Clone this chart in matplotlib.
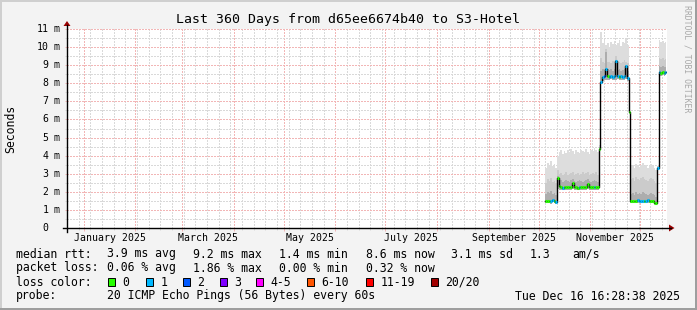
import numpy as np
import pandas as pd
import matplotlib
matplotlib.use("Agg")
import matplotlib.pyplot as plt
import matplotlib.dates as mdates
from matplotlib.patches import Rectangle, Polygon

# ---------------------------------------------------------------------------
# data (one value per day, in ms)
# ---------------------------------------------------------------------------
END = pd.Timestamp("2025-12-16 16:28:38")
START = END - pd.Timedelta(days=360)
days = pd.date_range("2025-10-05", periods=73, freq="D")

median_ms = [
    1.50, 1.48, 1.52, 1.47, 1.55, 1.50, 1.46,
    2.75,
    2.30, 2.26, 2.22, 2.28, 2.25, 2.24, 2.27, 2.26, 2.47, 2.28, 2.25, 2.23,
    2.27, 2.26, 2.24, 2.28, 2.25, 2.43, 2.27, 2.24, 2.26, 2.25, 2.28, 2.26,
    4.37,
    8.05, 8.35, 8.40, 8.80, 8.38, 8.36, 8.40, 8.35, 8.38, 9.22, 8.40, 8.36,
    8.38, 8.35, 8.40, 8.95, 8.30,
    6.43,
    1.52, 1.50, 1.51, 1.49, 1.53, 1.50, 1.52, 1.48, 1.51, 1.50, 1.53, 1.49,
    1.51, 1.50, 1.40, 1.38,
    3.30,
    8.62, 8.58, 8.60, 8.57, 8.60,
]
loss_class = [
    0, 0, 0, 1, 1, 0, 1,
    0,
    0, 0, 1, 0, 0, 0, 0, 0, 0, 0, 0, 0, 1, 0, 0, 0, 0, 0, 0, 0, 0, 1, 0, 0,
    0,
    1, 1, 2, 1, 0, 1, 1, 1, 1, 1, 1, 0, 1, 1, 1, 1, 1,
    0,
    0, 0, 0, 0, 1, 1, 1, 1, 0, 1, 1, 0, 0, 0, 0, 0,
    1,
    1, 0, 0, 1, 1,
]
smoke_min = [
    1.38, 1.36, 1.40, 1.35, 1.42, 1.38, 1.35,
    2.15,
    2.12, 2.10, 2.08, 2.12, 2.10, 2.09, 2.11, 2.10, 2.15, 2.12, 2.10, 2.08,
    2.11, 2.10, 2.09, 2.12, 2.10, 2.15, 2.11, 2.09, 2.10, 2.11, 2.12, 2.10,
    4.30,
    8.00, 8.15, 8.20, 8.20, 8.18, 8.20, 8.22, 8.18, 8.20, 8.20, 8.22, 8.18,
    8.20, 8.20, 8.20, 8.22, 8.10,
    6.35,
    1.38, 1.37, 1.39, 1.36, 1.40, 1.38, 1.37, 1.36, 1.39, 1.38, 1.40, 1.37,
    1.38, 1.36, 1.30, 1.28,
    3.25,
    8.45, 8.42, 8.45, 8.40, 8.44,
]
smoke_inner = [
    1.90, 2.00, 1.95, 2.05, 1.90, 1.95, 1.85,
    2.90,
    2.60, 2.65, 2.55, 2.60, 2.65, 2.60, 2.55, 2.65, 2.70, 2.60, 2.55, 2.60,
    2.65, 2.60, 2.55, 2.60, 2.65, 2.70, 2.60, 2.55, 2.60, 2.65, 2.60, 2.55,
    4.45,
    8.70, 8.80, 8.75, 9.75, 8.80, 8.75, 8.80, 8.70, 8.80, 9.30, 8.75, 8.80,
    8.70, 8.75, 8.80, 9.00, 8.70,
    6.45,
    1.90, 1.95, 1.85, 2.00, 1.90, 1.95, 1.90, 2.00, 1.95, 1.90, 1.85, 1.90,
    1.95, 1.90, 1.80, 1.70,
    3.35,
    8.95, 8.90, 8.95, 8.90, 8.90,
]
smoke_mid = [
    2.50, 2.70, 2.60, 2.75, 2.55, 2.60, 2.50,
    3.20,
    3.00, 3.05, 2.95, 3.00, 3.10, 2.95, 3.00, 3.05, 3.10, 2.95, 3.00, 3.05,
    2.95, 3.00, 3.10, 3.00, 3.05, 3.10, 2.95, 3.00, 3.05, 3.00, 3.10, 2.95,
    4.50,
    9.40, 9.20, 9.10, 9.90, 9.15, 9.20, 9.10, 9.25, 9.20, 9.50, 9.15, 9.20,
    9.10, 9.20, 9.30, 9.20, 9.10,
    6.50,
    2.70, 2.75, 2.60, 2.80, 2.70, 2.65, 2.75, 2.80, 2.70, 2.65, 2.60, 2.70,
    2.75, 2.70, 2.60, 2.50,
    3.40,
    9.40, 9.35, 9.40, 9.30, 9.35,
]
smoke_max = [
    3.30, 3.60, 3.50, 3.70, 3.40, 3.55, 3.30,
    4.00,
    4.20, 4.30, 4.10, 4.25, 4.15, 4.30, 4.20, 4.35, 4.25, 4.10, 4.30, 4.20,
    4.15, 4.30, 4.25, 4.20, 4.35, 4.20, 4.10, 4.30, 4.25, 4.40, 4.30, 4.20,
    4.60,
    10.85, 10.20, 10.40, 10.10, 10.25, 10.00, 10.30, 10.15, 10.35, 10.10,
    10.20, 10.40, 10.05, 10.30, 10.20, 10.45, 10.10,
    6.60,
    3.40, 3.50, 3.30, 3.55, 3.45, 3.35, 3.50, 3.60, 3.40, 3.50, 3.30, 3.45,
    3.55, 3.40, 3.30, 3.20,
    3.45,
    10.40, 10.30, 10.35, 10.20, 10.30,
]

loss_labels = ["0", "1", "2", "3", "4-5", "6-10", "11-19", "20/20"]
loss_colors = ["#26ff00", "#00b8ff", "#0059ff", "#7e00ff",
               "#ff00ff", "#ff5500", "#ff0000", "#a10000"]

month_labels = ["January 2025", "March 2025", "May 2025",
                "July 2025", "September 2025", "November 2025"]
label_months = ["2025-01", "2025-03", "2025-05", "2025-07", "2025-09", "2025-11"]
y_ticks = list(range(12))

title = "Last 360 Days from d65ee6674b40 to S3-Hotel"
rtt_stats = ["3.9 ms avg", "9.2 ms max", "1.4 ms min", "8.6 ms now",
             "3.1 ms sd", "1.3", "am/s"]
loss_stats = ["0.06 % avg", "1.86 % max", "0.00 % min", "0.32 % now"]
probe_text = "20 ICMP Echo Pings (56 Bytes) every 60s"
stamp_text = "Tue Dec 16 16:28:38 2025"

# ---------------------------------------------------------------------------
# layout (pixels)
# ---------------------------------------------------------------------------
W, H = 697, 310
L, R, T, B = 66.5, 666.5, 29, 228
MONO = "DejaVu Sans Mono"
BG = "#f3f3f3"
MGRID = "#f2b6b6"
GRID = "#d9d9d9"
ARROW = "#9a0000"

fig = plt.figure(figsize=(W / 100, H / 100), dpi=100, facecolor=BG)
ax = fig.add_axes([L / W, (H - B) / H, (R - L) / W, (B - T) / H])
ax.set_facecolor("white")
for s in ax.spines.values():
    s.set_visible(False)

x = mdates.date2num(days.to_pydatetime())
end_num = mdates.date2num(END.to_pydatetime())
edges = np.append(x, min(x[-1] + 1, end_num))


def ext(v):
    return np.append(v, v[-1])


# smoke
ax.fill_between(edges, ext(smoke_min), ext(smoke_max), step="post",
                color="#dddddd", lw=0, zorder=2)
ax.fill_between(edges, ext(smoke_min), ext(smoke_mid), step="post",
                color="#cbcbcb", lw=0, zorder=2)
ax.fill_between(edges, ext(smoke_min), ext(smoke_inner), step="post",
                color="#adadad", lw=0, zorder=2)

# median line + loss colour
ax.step(edges, ext(median_ms), where="post", color="black", lw=1.0, zorder=3)
ax.hlines(median_ms, x, edges[1:], colors=[loss_colors[c] for c in loss_class],
          lw=2.2, zorder=4)

ax.set_xlim(mdates.date2num(START.to_pydatetime()), end_num)
ax.set_ylim(0, 11)

ax.xaxis.set_major_locator(mdates.MonthLocator())
ax.xaxis.set_minor_locator(mdates.WeekdayLocator(byweekday=mdates.SU))
ax.set_yticks(y_ticks)
ax.set_yticks(np.arange(0.5, 11, 1.0), minor=True)
ax.grid(which="minor", color=GRID, lw=0.72, ls=(0, (1.4, 1.4)),
        antialiased=False, zorder=1)
ax.grid(which="major", color=MGRID, lw=0.72, ls=(0, (1.4, 1.4)),
        antialiased=False, zorder=1)
ax.set_axisbelow(True)
ax.tick_params(axis="x", which="major", direction="out", length=2.2,
               width=0.72, color=MGRID, labelbottom=False)
ax.tick_params(axis="x", which="minor", direction="out", length=1.4,
               width=0.72, color=GRID)
ax.tick_params(axis="y", which="major", direction="out", length=1.5,
               width=0.72, color=MGRID, labelleft=False)
ax.tick_params(axis="y", which="minor", direction="out", length=1.5,
               width=0.72, color=GRID)

# y tick labels: number right aligned, unit after it
for v in y_ticks:
    ax.annotate(str(v), xy=(0, v), xycoords=ax.get_yaxis_transform(),
                xytext=(-18.2, 0), textcoords="offset pixels",
                ha="right", va="center", fontsize=7.1, family=MONO)
    if v:
        ax.annotate("m", xy=(0, v), xycoords=ax.get_yaxis_transform(),
                    xytext=(-12.5, 0), textcoords="offset pixels",
                    ha="left", va="center", fontsize=7.1, family=MONO)

# x labels centred in their month
for lab, m in zip(month_labels, label_months):
    m0 = pd.Timestamp(m + "-01")
    m1 = m0 + pd.offsets.MonthBegin(1)
    mid = mdates.date2num((m0 + (m1 - m0) / 2).to_pydatetime())
    ax.annotate(lab, xy=(mid, 0), xycoords=ax.get_xaxis_transform(),
                xytext=(0, -9.7), textcoords="offset pixels",
                ha="center", va="center", fontsize=7.1, family=MONO)

# ---------------------------------------------------------------------------
# overlay in pixel coordinates: frame, axes arrows, texts, legend
# ---------------------------------------------------------------------------
fx = fig.add_axes([0, 0, 1, 1], zorder=5)
fx.set_xlim(0, W)
fx.set_ylim(H, 0)
fx.axis("off")
fx.patch.set_alpha(0)

fx.add_patch(Rectangle((0, 0), W, 2, color="#cfcfcf", lw=0))
fx.add_patch(Rectangle((0, 0), 2, H, color="#cfcfcf", lw=0))
fx.add_patch(Rectangle((0, H - 2), W, 2, color="#9e9e9e", lw=0))
fx.add_patch(Rectangle((W - 2, 0), 2, H, color="#9e9e9e", lw=0))

fx.plot([L + 0.5, L + 0.5], [B + 4, T - 4], color="black", lw=1.0)
fx.plot([L - 4, R + 4], [B, B], color="black", lw=1.0)
fx.add_patch(Polygon([(L - 3, T - 3), (L + 4, T - 3), (L + 0.5, T - 8)],
                     closed=True, color=ARROW, lw=0))
fx.add_patch(Polygon([(R + 2.5, B - 3.5), (R + 2.5, B + 3.5), (R + 8, B)],
                     closed=True, color=ARROW, lw=0))

fx.text(348, 19, title, ha="center", va="center", fontsize=9.5, family=MONO)
fx.text(11, (T + B) / 2, "Seconds", rotation=90, ha="center", va="center",
        fontsize=8.3, family=MONO)
fx.text(687, 5, "RRDTOOL / TOBI OETIKER", rotation=270, ha="center", va="top",
        fontsize=5.9, family=MONO, color="#a8a8a8")

TXT = dict(fontsize=8.3, family=MONO, va="center", ha="left")
row_y = [254, 268, 282, 296]
stat_x = [107, 193, 279, 366, 451, 530, 572]

fx.text(16, row_y[0], "median rtt:", **TXT)
for sx, s in zip(stat_x, rtt_stats):
    fx.text(sx, row_y[0], s, **TXT)

fx.text(16, row_y[1], "packet loss:", **TXT)
for sx, s in zip(stat_x, loss_stats):
    fx.text(sx, row_y[1], s, **TXT)

fx.text(16, row_y[2], "loss color:", **TXT)
box_x = [108, 145.5, 182.5, 219.5, 256, 307, 365.7, 430.7]
for bx, lab, col in zip(box_x, loss_labels, loss_colors):
    fx.add_patch(Rectangle((bx, row_y[2] - 4), 7, 8, facecolor=col,
                           edgecolor="black", lw=0.7))
    fx.text(bx + 14.7, row_y[2], lab, **TXT)

fx.text(16, row_y[3], "probe:", **TXT)
fx.text(107, row_y[3], probe_text, **TXT)
fx.text(680, row_y[3], stamp_text, fontsize=8.3, family=MONO,
        va="center", ha="right")

fig.savefig("out.png", dpi=100, facecolor=BG)
